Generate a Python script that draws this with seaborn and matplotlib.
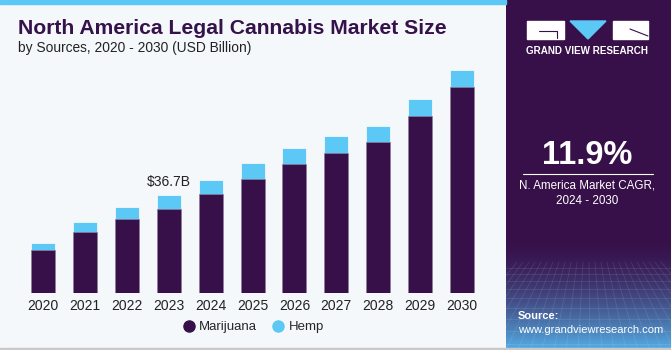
import numpy as np
import pandas as pd
import matplotlib.pyplot as plt
from matplotlib.patches import Rectangle, Polygon
from matplotlib.lines import Line2D
import seaborn as sns

years = ["2020", "2021", "2022", "2023", "2024", "2025", "2026", "2027", "2028", "2029", "2030"]
marijuana = [16.0, 22.8, 28.0, 31.6, 37.1, 43.0, 48.6, 52.8, 56.8, 66.6, 77.6]
hemp = [2.8, 4.0, 4.5, 5.1, 5.5, 5.9, 5.9, 6.3, 6.0, 6.5, 6.5]

MAR = "#37104a"
HEMP = "#5bc8f5"
BG = "#f4f8fb"

df = pd.DataFrame({"year": years, "marijuana": marijuana, "hemp": hemp})
df["total"] = df["marijuana"] + df["hemp"]

sns.set_theme(style="white")
plt.rcParams["font.family"] = ["Liberation Sans", "DejaVu Sans"]

W, H = 671, 350
fig = plt.figure(figsize=(W / 100, H / 100), dpi=100)
fig.patch.set_facecolor(BG)

# top strip and bottom border
fig.patches.append(Rectangle((0, 1 - 4 / H), 506 / W, 4 / H, transform=fig.transFigure,
                             color=HEMP, zorder=0))
fig.patches.append(Rectangle((0, 0), 1, 2 / H, transform=fig.transFigure,
                             color="#c9c9c9", zorder=0))

# chart area
ax = fig.add_axes([18 / W, 1 - 293 / H, 470 / W, 233 / H])
ax.set_facecolor(BG)
sns.barplot(data=df, x="year", y="total", color=HEMP, width=0.573, saturation=1,
            edgecolor=BG, linewidth=0.6, ax=ax)
sns.barplot(data=df, x="year", y="marijuana", color=MAR, width=0.573, saturation=1,
            edgecolor="#8d7f9b", linewidth=0.5, ax=ax)
ax.set_xlim(-0.597, 10.62)
ax.set_ylim(0, 87.7)
ax.set_xlabel("")
ax.set_ylabel("")
ax.set_yticks([])
for s in ax.spines.values():
    s.set_visible(False)
ax.tick_params(axis="x", length=0, pad=4, labelsize=10, labelcolor="#222222")

i23 = years.index("2023")
ax.annotate(f"${df['total'][i23]:.1f}B", (i23, df["total"][i23]), xytext=(0, 5),
            textcoords="offset points", ha="center", va="bottom", fontsize=10,
            color="#222222")

handles = [Line2D([], [], marker="o", ls="", color=MAR, markersize=8),
           Line2D([], [], marker="o", ls="", color=HEMP, markersize=8)]
fig.legend(handles, ["Marijuana", "Hemp"], loc="center", bbox_to_anchor=(253 / W, 1 - 327 / H),
           ncol=2, frameon=False, fontsize=9.5, handletextpad=0.3, columnspacing=1.1,
           handlelength=1)

# titles
fig.text(18 / W, 1 - 29 / H, "North America Legal Cannabis Market Size", fontsize=15.2,
         fontweight="bold", color="#35124a", va="center", ha="left")
fig.text(18 / W, 1 - 48 / H, "by Sources, 2020 - 2030 (USD Billion)", fontsize=9.9,
         color="#222222", va="center", ha="left")

# right panel
pax = fig.add_axes([506 / W, 0, 165 / W, 1])
pax.set_xlim(0, 165)
pax.set_ylim(350, 0)
pax.axis("off")
top = np.array([0.216, 0.063, 0.290])
bot = np.array([0.33, 0.68, 0.90])
t = np.clip((np.linspace(0, 350, 350) - 240) / 110, 0, 1) ** 1.6
grad = top[None, :] * (1 - t[:, None]) + bot[None, :] * t[:, None]
pax.imshow(grad[:, None, :], extent=[0, 165, 350, 0], aspect="auto")
# faint grid in the bottom
for yy in [268, 274, 281, 289, 298, 308, 319, 331, 344]:
    pax.plot([0, 165], [yy, yy], color="white", alpha=0.10, lw=0.6)
for xx in np.arange(-60, 230, 12):
    pax.plot([82 + (xx - 82) * 0.5, xx], [262, 350], color="white", alpha=0.10, lw=0.6)

# logo
pax.add_patch(Rectangle((21, 21), 37, 18, color="white"))
pax.add_patch(Polygon([[64, 21], [100, 21], [82, 39]], color=HEMP))
pax.add_patch(Rectangle((107, 21), 35, 18, color="white"))
pax.plot([33, 51, 51], [31, 31, 38], color=MAR, lw=0.8)
pax.plot([124, 142], [29, 36], color=MAR, lw=0.8)
pax.text(81.5, 51.5, "GRAND VIEW RESEARCH", color="white", fontsize=7.1, fontweight="bold",
         ha="center", va="center")

pax.text(81, 155, "11.9%", color="white", fontsize=23.5, fontweight="bold", ha="center",
         va="center")
pax.plot([17, 147], [173.5, 173.5], color="white", lw=0.8)
pax.text(81, 185, "N. America Market CAGR,", color="white", fontsize=8.4, ha="center",
         va="center")
pax.text(81, 201, "2024 - 2030", color="white", fontsize=8.4, ha="center", va="center")
pax.text(12, 316, "Source:", color="white", fontsize=8, fontweight="bold", ha="left",
         va="center")
pax.text(12, 330, "www.grandviewresearch.com", color="white", fontsize=8, ha="left",
         va="center")

fig.savefig("out.png", dpi=100, facecolor=fig.get_facecolor())
